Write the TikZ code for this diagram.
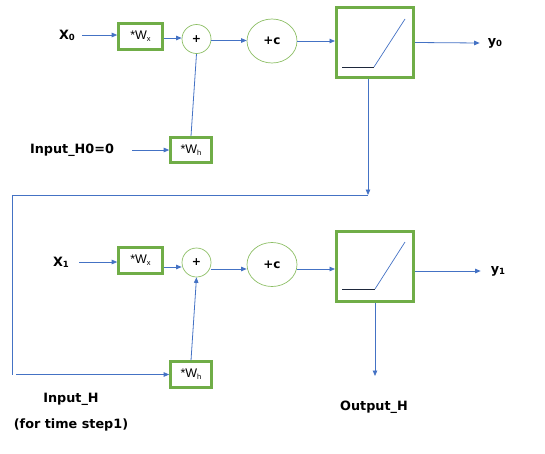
\documentclass[tikz,border=0pt]{standalone}
\usepackage{fontspec}
\setmainfont{DejaVu Sans}
\newfontfamily\boxfont{Liberation Sans}
\usetikzlibrary{arrows.meta,calc,shapes.geometric}
\definecolor{grn}{RGB}{112,173,71}
\definecolor{lgrn}{RGB}{140,190,100}
\definecolor{blu}{RGB}{68,114,196}
\definecolor{navy}{RGB}{30,40,60}
\newcommand{\lbl}[1]{\fontsize{12.8}{14}\selectfont\bfseries #1}
\newcommand{\sbs}[1]{\raisebox{-1.2pt}{\fontsize{8.5}{9}\selectfont #1}}
\newcommand{\wsub}[1]{{\boxfont\fontsize{12.5}{13}\selectfont *W\raisebox{-2.2pt}{\fontsize{7.5}{8}\selectfont #1}}}
\begin{document}
\begin{tikzpicture}[x=1pt,y=-1pt,
  wbox/.style={draw=grn, line width=2.6pt, minimum width=44pt, minimum height=26pt, inner sep=0pt},
  wbox2/.style={wbox, minimum width=41pt, minimum height=25.5pt},
  rbox/.style={draw=grn, line width=3pt, minimum width=77pt, minimum height=70pt, inner sep=0pt},
  sumc/.style={draw=lgrn, line width=0.7pt, circle, minimum size=29pt, inner sep=0pt},
  bias/.style={draw=lgrn, line width=0.7pt, ellipse, minimum width=50pt, minimum height=44pt, inner sep=0pt},
  lab/.style={inner sep=0pt, font=\lbl},
  arr/.style={draw=blu, line width=0.8pt, -{Triangle[length=5.5pt,width=4.5pt]}},
  ln/.style={draw=blu, line width=0.8pt},
]
\useasboundingbox (0,0) rectangle (545,453);

% ---- time step 0 ----
\node[lab] (x0) at (67,35) {X\sbs{0}};
\node[wbox] (wx) at (140.5,36.5) {\wsub{x}};
\node[sumc] (plus) at (196.5,39) {\fontsize{11}{12}\selectfont\bfseries +};
\node[bias] (c) at (272,41) {\fontsize{12}{12}\selectfont\bfseries +c};
\node[rbox] (relu) at (375,42.5) {};
\node[lab] (y0) at (495,43) {y\sbs{0}};
\node[lab] (in0) at (72,150) {Input\_H0=0};
\node[wbox2] (wh) at (191,150) {\wsub{h}};

\draw[navy, line width=0.9pt] ([shift={(-33,24.5)}]relu.center) -- ([shift={(-1,24.5)}]relu.center);
\draw[ln, line width=0.7pt] ([shift={(-1,24.5)}]relu.center) -- ([shift={(30,-23.5)}]relu.center);

\draw[arr] ([xshift=7pt]x0.east) -- (wx.west |- x0.east);
\draw[arr] ([yshift=-1.5pt]wx.east) -- ([yshift=-1.5pt]wx.east -| plus.west);
\draw[arr] ([yshift=-1.5pt]plus.east) -- ([yshift=-1.5pt]plus.east -| c.west);
\draw[arr] (c.east) -- (c.east -| relu.west);
\draw[arr] (relu.east) -- ([xshift=-8pt]y0.west);
\draw[ln] (wh.north) -- (plus.south);
\draw[arr] ([xshift=18pt]in0.east) -- (wh.west);

% feedback
\coordinate (fb) at (368,195);
\coordinate (corner) at (12,374.5);
\draw[arr] ([xshift=-7pt]relu.south) -- (fb);

% ---- time step 1 ----
\node[lab] (x1) at (61,262) {X\sbs{1}};
\node[wbox] (wx2) at (140.5,260.5) {\wsub{x}};
\node[sumc] (plus2) at (196.5,262.5) {\fontsize{11}{12}\selectfont\bfseries +};
\node[bias] (c2) at (272,264.5) {\fontsize{12}{12}\selectfont\bfseries +c};
\node[rbox] (relu2) at (375,266.5) {};
\node[lab] (y1) at (498,271) {y\sbs{1}};
\node[wbox2] (wh2) at (191,374.5) {\wsub{h}};
\node[lab] (inh) at (71,399) {Input\_H};
\node[lab] (ts) at (71,425) {(for time step1)};
\node[lab] (oh) at (374,407) {Output\_H};
\coordinate (ohend) at (375,376);

\draw[navy, line width=0.9pt] ([shift={(-33,22.5)}]relu2.center) -- ([shift={(0,22.5)}]relu2.center);
\draw[ln, line width=0.7pt] ([shift={(0,22.5)}]relu2.center) -- ([shift={(30,-24.5)}]relu2.center);

\draw[ln] (fb) -| (corner);
\draw[arr] ([xshift=4pt]corner) -- (corner -| wh2.west);

\draw[arr] ([xshift=10pt]x1.east) -- (wx2.west |- x1.east);
\draw[arr] ([yshift=-6.5pt]wx2.east) -- ([yshift=-6.5pt]wx2.east -| plus2.west);
\draw[arr] ([yshift=-6.5pt]plus2.east) -- ([yshift=-6.5pt]plus2.east -| c2.west);
\draw[arr] ([yshift=-4.5pt]c2.east) -- ([yshift=-4.5pt]c2.east -| relu2.west);
\draw[arr] ([yshift=-4.5pt]relu2.east) -- ([xshift=-10pt]y1.west);
\draw[arr] (wh2.north) -- (plus2.south);
\draw[arr] (relu2.south) -- (ohend);
\end{tikzpicture}
\end{document}
